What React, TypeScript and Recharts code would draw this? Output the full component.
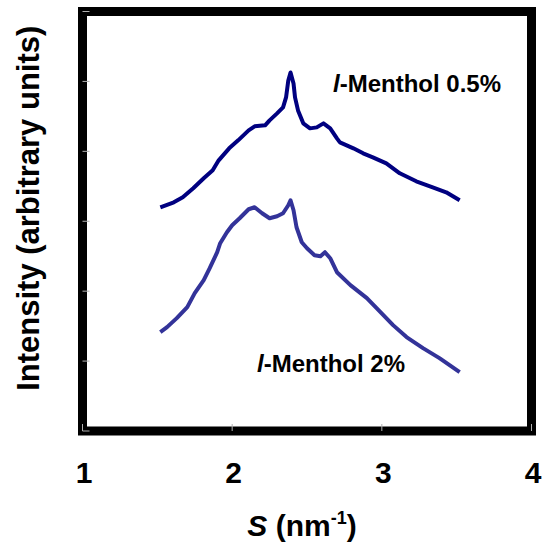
import React from 'react';
import { LineChart, Line, XAxis, YAxis, ReferenceArea, ReferenceDot } from 'recharts';

// Scattering vector S (nm^-1) and intensity (arbitrary units)
const sLow = [1.52, 1.61, 1.67, 1.74, 1.81, 1.87, 1.91, 1.98, 2.04, 2.11, 2.15, 2.22, 2.25, 2.3, 2.34, 2.36, 2.375, 2.39, 2.41, 2.42, 2.44, 2.475, 2.52, 2.565, 2.61, 2.655, 2.7, 2.72, 2.81, 2.875, 2.94, 3.03, 3.12, 3.23, 3.34, 3.43, 3.52];
const intensityLow = [224, 229, 234, 243, 253, 261, 271, 283, 291, 301, 305, 306, 311, 318, 324, 334, 351, 359, 348, 334, 321, 308, 303, 304, 308, 303, 293, 289, 283, 278, 274, 268, 258, 250, 244, 239, 231];

const sHigh = [1.52, 1.565, 1.63, 1.7, 1.75, 1.81, 1.85, 1.9, 1.92, 1.965, 2.0, 2.05, 2.11, 2.15, 2.2, 2.25, 2.3, 2.34, 2.375, 2.39, 2.41, 2.43, 2.465, 2.5, 2.55, 2.59, 2.62, 2.655, 2.7, 2.79, 2.9, 2.965, 3.075, 3.165, 3.275, 3.385, 3.52];
const intensityHigh = [99, 104, 113, 124, 138, 151, 163, 179, 188, 199, 206, 213, 222, 224, 218, 213, 215, 218, 226, 231, 221, 204, 189, 183, 176, 175, 179, 173, 159, 146, 133, 123, 106, 94, 83, 73, 59];

const xTicks = [1, 2, 3, 4];
const yTicks = [0, 70, 140, 210, 280, 350, 420];
const xDomain = [1, 4];
const yDomain = [0, 420];

const seriesLowName = '0.5%';
const seriesHighName = '2%';
const labelLowPos = { s: 2.674, v: 339 };
const labelHighPos = { s: 2.166, v: 59 };

const dataLow = sLow.map((s, i) => ({ s, v: intensityLow[i] }));
const dataHigh = sHigh.map((s, i) => ({ s, v: intensityHigh[i] }));

const FONT = '"Liberation Sans", Arial, Helvetica, sans-serif';
const TICK_MARGIN = 52;

const XTick = (props: any) => {
  const { x, y, payload } = props;
  const axisY = y - TICK_MARGIN;
  return (
    <g>
      <line x1={x} x2={x} y1={axisY - 7} y2={axisY} stroke="#b0b0b0" strokeWidth={1} />
      <text x={x + 1.5} y={y} textAnchor="middle" fontFamily={FONT} fontWeight="bold" fontSize={30} fill="#000">
        {payload.value}
      </text>
    </g>
  );
};

const YTick = (props: any) => {
  const { x, y } = props;
  return <line x1={x} x2={x + 7} y1={y} y2={y} stroke="#b0b0b0" strokeWidth={1} />;
};

const XTitle = (props: any) => {
  const vb = props.viewBox || { x: 82.5, y: 431, width: 449, height: 1 };
  const cx = vb.x + vb.width / 2 - 5;
  const by = vb.y + 105;
  return (
    <text x={cx} y={by} textAnchor="middle" fontFamily={FONT} fontWeight="bold" fontSize={30} fill="#000">
      <tspan fontStyle="italic">S</tspan>
      <tspan> (nm</tspan>
      <tspan fontSize={18} dy={-12}>-1</tspan>
      <tspan dy={12}>)</tspan>
    </text>
  );
};

const YTitle = (props: any) => {
  const vb = props.viewBox || { x: 81.5, y: 11.5, width: 1, height: 419.5 };
  const x = vb.x - 43;
  const y = vb.y + vb.height / 2 - 13;
  return (
    <text x={x} y={y} transform={`rotate(-90, ${x}, ${y})`} textAnchor="middle" fontFamily={FONT} fontWeight="bold" fontSize={31} fill="#000">
      Intensity (arbitrary units)
    </text>
  );
};

const makeSeriesLabel = (pct: string) => (p: any) => (
  <text x={p.cx} y={p.cy} textAnchor="start" fontFamily={FONT} fontWeight="bold" fontSize={24} fill="#000">
    <tspan fontStyle="italic">l</tspan>
    <tspan>{`-Menthol ${pct}`}</tspan>
  </text>
);

export default function App() {
  return (
    <div style={{ position: 'absolute', left: 0, top: 0, width: 544, height: 543, background: '#fff' }}>
      <LineChart
        width={544}
        height={543}
        margin={{ top: 11.5, right: 12.5, bottom: 111, left: 81.5 }}
      >
        <XAxis
          type="number"
          dataKey="s"
          domain={xDomain}
          ticks={xTicks}
          allowDataOverflow
          height={1}
          axisLine={false}
          tickLine={false}
          tickSize={0}
          tickMargin={TICK_MARGIN}
          tick={XTick}
          label={XTitle}
          interval={0}
        />
        <YAxis
          type="number"
          dataKey="v"
          domain={yDomain}
          ticks={yTicks}
          allowDataOverflow
          width={1}
          axisLine={false}
          tickLine={false}
          tickSize={0}
          tickMargin={0}
          tick={YTick}
          label={YTitle}
          interval={0}
        />
        <ReferenceArea
          x1={xDomain[0]}
          x2={xDomain[1]}
          y1={yDomain[0]}
          y2={yDomain[1]}
          fill="none"
          fillOpacity={0}
          stroke="#000"
          strokeWidth={9}
          ifOverflow="visible"
        />
        <Line
          data={dataLow}
          dataKey="v"
          type="linear"
          stroke="#000080"
          strokeWidth={4}
          strokeLinejoin="round"
          dot={false}
          activeDot={false}
          isAnimationActive={false}
        />
        <Line
          data={dataHigh}
          dataKey="v"
          type="linear"
          stroke="#333399"
          strokeWidth={4}
          strokeLinejoin="round"
          dot={false}
          activeDot={false}
          isAnimationActive={false}
        />
        <ReferenceDot x={labelLowPos.s} y={labelLowPos.v} r={1} shape={makeSeriesLabel(seriesLowName)} />
        <ReferenceDot x={labelHighPos.s} y={labelHighPos.v} r={1} shape={makeSeriesLabel(seriesHighName)} />
      </LineChart>
    </div>
  );
}
